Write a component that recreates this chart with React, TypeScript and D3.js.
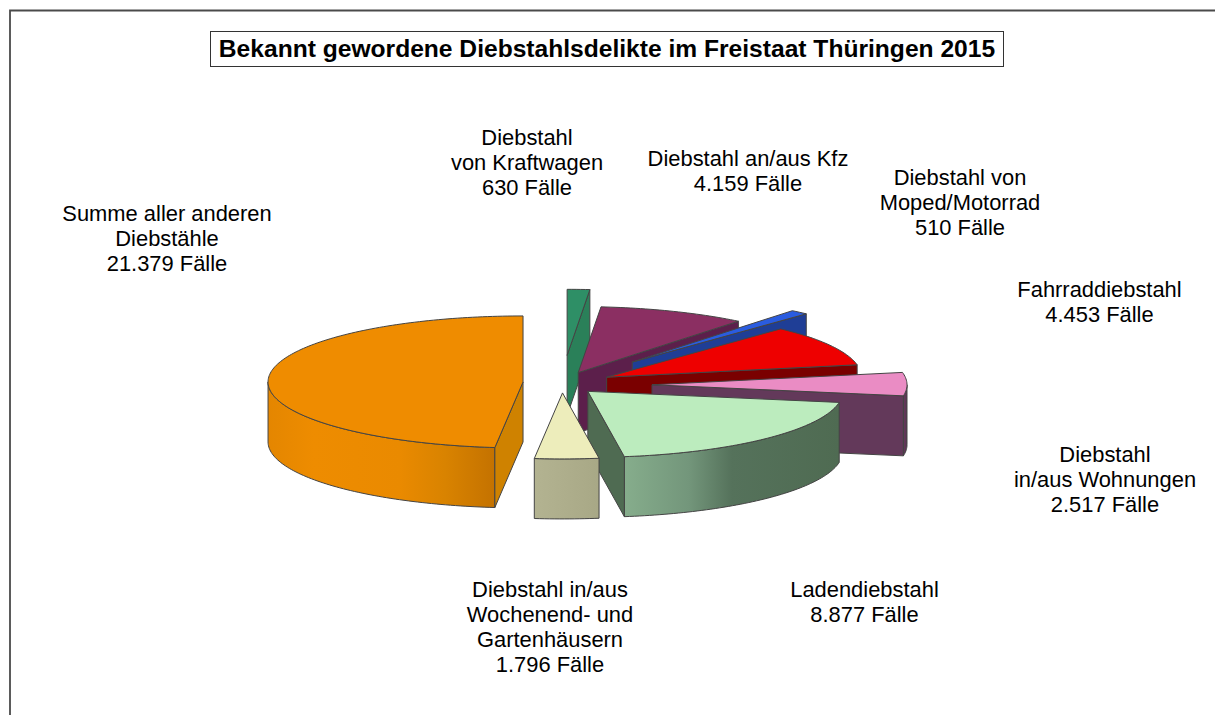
import React from "react";
import * as d3 from "d3";

// ---- data ----
const categories = [
  "Diebstahl von Kraftwagen",
  "Diebstahl an/aus Kfz",
  "Diebstahl von Moped/Motorrad",
  "Fahrraddiebstahl",
  "Diebstahl in/aus Wohnungen",
  "Ladendiebstahl",
  "Diebstahl in/aus Wochenend- und Gartenhäusern",
  "Summe aller anderen Diebstähle",
];
const cases = [630, 4159, 510, 4453, 2517, 8877, 1796, 21379];
const titleText = "Bekannt gewordene Diebstahlsdelikte im Freistaat Thüringen 2015";
const labelLines = [
  ["Diebstahl", "von Kraftwagen", "630 Fälle"],
  ["Diebstahl an/aus Kfz", "4.159 Fälle"],
  ["Diebstahl von", "Moped/Motorrad", "510 Fälle"],
  ["Fahrraddiebstahl", "4.453 Fälle"],
  ["Diebstahl", "in/aus Wohnungen", "2.517 Fälle"],
  ["Ladendiebstahl", "8.877 Fälle"],
  ["Diebstahl in/aus", "Wochenend- und", "Gartenhäusern", "1.796 Fälle"],
  ["Summe aller anderen", "Diebstähle", "21.379 Fälle"],
];

// ---- styling and layout (not data) ----
const explode = [0.45, 0.17, 0.42, 0.2, 0.353, 0.145, 0.12, 0.153];
const lift = [0, -2, -2, -1.5, 0, -0.5, 0, -2.5];
const topColors = ["#2E8F66", "#8B2F62", "#2A5CE0", "#EE0000", "#EA8CC4", "#BCECBE", "#EDEDBB", "#EF8C00"];
const cutColors = ["#2A8059", "#5C1F4B", "#1F3E96", "#7A0000", "#63395A", "#4F6B52", "#B0B08C", "#CF8200"];
const wallStops: [number, string][][] = [
  [[0, "#2A8059"], [1, "#2A8059"]],
  [[0, "#5C1F4B"], [1, "#5C1F4B"]],
  [[0, "#1F3E96"], [1, "#1F3E96"]],
  [[0, "#7A0000"], [1, "#7A0000"]],
  [[0, "#63395A"], [1, "#5A3352"]],
  [[0, "#86AD8C"], [0.3, "#73967B"], [0.5, "#55725B"], [1, "#4F6B52"]],
  [[0, "#B3B391"], [1, "#A8A886"]],
  [[0, "#E48600"], [0.2, "#EE8C00"], [0.58, "#EA8A00"], [0.78, "#D98300"], [1, "#C47200"]],
];
const labelCenters = [527, 748, 960, 1099.5, 1105, 864.5, 550, 167];
const labelBaselines = [145, 165.5, 185, 297, 461.5, 597, 596.5, 221];
const LINE_H = 25;
const W = 1215, H = 715;
const CX = 562, CY = 385, RX = 255, RY = 66, DEPTH = 60;
const STROKE = "#444";
const FONT = "'Liberation Sans', Arial, sans-serif";

const slices = d3.pie<number>().sort(null).value((d) => d).startAngle(0).endAngle(2 * Math.PI)(cases);
const line2d = d3.line<[number, number]>().x((p) => p[0]).y((p) => p[1]);

function sampleAngles(a0: number, a1: number): number[] {
  const n = Math.max(2, Math.ceil((a1 - a0) / 0.02));
  const scale = d3.scaleLinear().domain([0, n]).range([a0, a1]);
  return d3.range(n + 1).map((i) => scale(i));
}

export default function App() {
  return (
    <svg width={W} height={H} style={{ position: "absolute", left: 0, top: 0, display: "block", background: "#fff" }}>
      <defs>
        {wallStops.map((stops, i) => (
          <linearGradient key={i} id={`wall${i}`} x1="0" x2="1" y1="0" y2="0">
            {stops.map(([o, c], j) => (
              <stop key={j} offset={o} stopColor={c} />
            ))}
          </linearGradient>
        ))}
      </defs>
      <path d={`M10,${H}V10.5H${W}`} fill="none" stroke="#4a4a4a" strokeWidth={1.8} />
      <rect x={210.5} y={31.5} width={793} height={35} fill="#fff" stroke="#333" strokeWidth={1} />
      <text x={607} y={56.5} textAnchor="middle" fontFamily={FONT} fontWeight="bold" fontSize={24.6} fill="#000">
        {titleText}
      </text>
      {slices.map((s, i) => {
        const mid = (s.startAngle + s.endAngle) / 2;
        const ox = CX + explode[i] * RX * Math.sin(mid);
        const oy = CY - explode[i] * RY * Math.cos(mid) + lift[i];
        const proj = (a: number, dz = 0): [number, number] => [ox + RX * Math.sin(a), oy - RY * Math.cos(a) + dz];
        const tip: [number, number] = [ox, oy];
        const tipLow: [number, number] = [ox, oy + DEPTH];
        const arcPts = sampleAngles(s.startAngle, s.endAngle).map((a) => proj(a));
        const top = line2d([tip, ...arcPts, tip])!;
        const parts: React.ReactNode[] = [];
        // outer wall: only the part that faces the viewer
        const w0 = Math.max(s.startAngle, Math.PI / 2);
        const w1 = Math.min(s.endAngle, (3 * Math.PI) / 2);
        if (w1 > w0) {
          const up = sampleAngles(w0, w1).map((a) => proj(a));
          const down = sampleAngles(w0, w1).reverse().map((a) => proj(a, DEPTH));
          parts.push(
            <path key="wall" d={line2d([...up, ...down, up[0]])!} fill={`url(#wall${i})`} stroke={STROKE} strokeWidth={1} strokeLinejoin="round" />
          );
        }
        // cut faces
        if (Math.sin(s.startAngle) < -1e-6) {
          const a = proj(s.startAngle);
          const b = proj(s.startAngle, DEPTH);
          parts.push(
            <path key="cutS" d={line2d([tip, a, b, tipLow, tip])!} fill={cutColors[i]} stroke={STROKE} strokeWidth={1} strokeLinejoin="round" />
          );
        }
        if (Math.sin(s.endAngle) > 1e-6) {
          const a = proj(s.endAngle);
          const b = proj(s.endAngle, DEPTH);
          parts.push(
            <path key="cutE" d={line2d([tip, a, b, tipLow, tip])!} fill={cutColors[i]} stroke={STROKE} strokeWidth={1} strokeLinejoin="round" />
          );
        }
        return (
          <g key={i} data-name={categories[i]}>
            {parts}
            <path d={top} fill={topColors[i]} stroke={STROKE} strokeWidth={1} strokeLinejoin="round" />
          </g>
        );
      })}
      {labelLines.map((lines, i) => (
        <text key={i} textAnchor="middle" fontFamily={FONT} fontSize={21.9} fill="#000">
          {lines.map((t, j) => (
            <tspan key={j} x={labelCenters[i]} y={labelBaselines[i] + j * LINE_H}>
              {t}
            </tspan>
          ))}
        </text>
      ))}
    </svg>
  );
}
